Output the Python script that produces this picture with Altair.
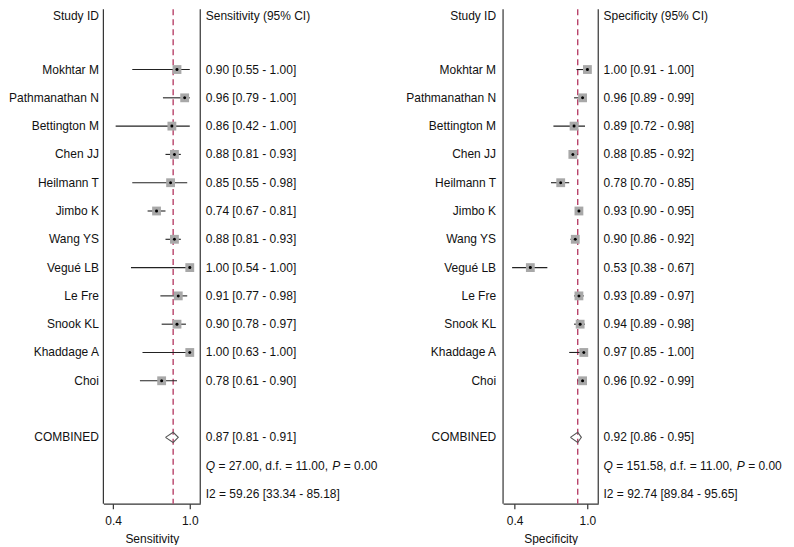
import altair as alt
import pandas as pd

# ---------------- data ----------------
studies = ["Mokhtar M", "Pathmanathan N", "Bettington M", "Chen JJ", "Heilmann T",
           "Jimbo K", "Wang YS", "Vegué LB", "Le Fre", "Snook KL", "Khaddage A", "Choi"]
sens_est = [0.90, 0.96, 0.86, 0.88, 0.85, 0.74, 0.88, 1.00, 0.91, 0.90, 1.00, 0.78]
sens_lo = [0.55, 0.79, 0.42, 0.81, 0.55, 0.67, 0.81, 0.54, 0.77, 0.78, 0.63, 0.61]
sens_hi = [1.00, 1.00, 1.00, 0.93, 0.98, 0.81, 0.93, 1.00, 0.98, 0.97, 1.00, 0.90]
spec_est = [1.00, 0.96, 0.89, 0.88, 0.78, 0.93, 0.90, 0.53, 0.93, 0.94, 0.97, 0.96]
spec_lo = [0.91, 0.89, 0.72, 0.85, 0.70, 0.90, 0.86, 0.38, 0.89, 0.89, 0.85, 0.92]
spec_hi = [1.00, 0.99, 0.98, 0.92, 0.85, 0.95, 0.92, 0.67, 0.97, 0.98, 1.00, 0.99]

comb_sens = [0.87, 0.81, 0.91]      # estimate, lower, upper
comb_spec = [0.92, 0.86, 0.95]
q_sens = [27.00, 11.00, 0.00]       # Q, d.f., P
q_spec = [151.58, 11.00, 0.00]
i2_sens = [59.26, 33.34, 85.18]     # I2 [lower - upper]
i2_spec = [92.74, 89.84, 95.65]

tick_values = [0.4, 1.0]

# ---------------- style ----------------
FONT = "Liberation Sans"
FS = 12
TXT = "#111111"
FRAME = "#333333"
DASH = "#b8436a"

# Arial / Liberation Sans advance widths (em) for layout of mixed-style text
CW = {c: 0.556 for c in "0123456789d"}
CW.update({".": 0.278, ",": 0.278, " ": 0.278, "=": 0.584, "f": 0.278,
           "Q": 0.778, "P": 0.667, "[": 0.278, "]": 0.278, "-": 0.333})


def tw(s):
    return sum(CW.get(c, 0.556) for c in s) * FS


Y_SCALE = alt.Scale(domain=[-0.127, 17.345], reverse=True, nice=False, zero=False)
HEIGHT = 495
HEADER_Y = 7


def txt(df, x, align, italic=False, field="label", y=None):
    enc_y = alt.value(y) if y is not None else alt.Y("row:Q", scale=Y_SCALE, axis=None)
    return alt.Chart(df).mark_text(
        align=align, baseline="middle", font=FONT, fontSize=FS, color=TXT,
        fontStyle="italic" if italic else "normal"
    ).encode(
        x=alt.value(x),
        y=enc_y,
        text=f"{field}:N",
    )


def panel(est, lo, hi, comb, q, i2, measure, dom, rng, lab_x, ci_x, width):
    rows = [2 + i for i in range(len(studies))]
    df = pd.DataFrame({"label": studies, "row": rows, "est": est, "lo": lo, "hi": hi})
    df["ci"] = [f"{e:.2f} [{l:.2f} - {h:.2f}]" for e, l, h in zip(est, lo, hi)]

    xs = alt.Scale(domain=dom, range=rng, nice=False, zero=False)
    ax = alt.Axis(values=tick_values, format=".1f", title=measure, grid=False,
                  tickSize=5, tickColor=FRAME, domainColor=FRAME, domainWidth=1.2,
                  tickWidth=1.2, labelFont=FONT, labelFontSize=FS, labelColor=TXT,
                  labelPadding=7, titleFont=FONT, titleFontSize=FS,
                  titleFontWeight="normal", titleColor=TXT, titlePadding=7)
    Y = alt.Y("row:Q", scale=Y_SCALE, axis=None)

    def X(f):
        return alt.X(f"{f}:Q", scale=xs, axis=ax)

    base = alt.Chart(df)
    ci_line = base.mark_rule(color="#222222", strokeWidth=1.1).encode(
        x=X("lo"), x2="hi:Q", y=Y)
    box = base.mark_square(size=78, color="#a8a8a8", opacity=1).encode(x=X("est"), y=Y)
    dot = base.mark_circle(size=9, color="black", opacity=1).encode(x=X("est"), y=Y)

    edges = pd.DataFrame({"edge": dom})
    frame = alt.Chart(edges).mark_rule(color=FRAME, strokeWidth=1.2).encode(x=X("edge"))

    cdf = pd.DataFrame({"est": [comb[0]]})
    dash = alt.Chart(cdf).mark_rule(color=DASH, strokeWidth=1.4,
                                    strokeDash=[6, 4]).encode(x=X("est"))

    h = 0.18
    ddf = pd.DataFrame({
        "x": [comb[1], comb[0], comb[2], comb[0], comb[1]],
        "row": [15, 15 - h, 15, 15 + h, 15],
        "o": [0, 1, 2, 3, 4],
    })
    diamond = alt.Chart(ddf).mark_line(color="#555555", strokeWidth=1.1).encode(
        x=X("x"), y=Y, order="o:Q")

    labels = txt(df, lab_x, "right")
    cis = txt(df, ci_x, "left", field="ci")

    head_l = txt(pd.DataFrame({"label": ["Study ID"]}), lab_x, "right", y=HEADER_Y)
    head_r = txt(pd.DataFrame({"label": [f"{measure} (95% CI)"]}), ci_x, "left", y=HEADER_Y)

    comb_l = txt(pd.DataFrame({"row": [15], "label": ["COMBINED"]}), lab_x, "right")
    comb_r = txt(pd.DataFrame({"row": [15, 17],
                               "label": [f"{comb[0]:.2f} [{comb[1]:.2f} - {comb[2]:.2f}]",
                                         f"I2 = {i2[0]:.2f} [{i2[1]:.2f} - {i2[2]:.2f}]"]}),
                 ci_x, "left")

    seg2 = f"= {q[0]:.2f}, d.f. = {q[1]:.2f},"
    seg4 = f"= {q[2]:.2f}"
    x1 = ci_x
    x2 = x1 + tw("Q ")
    x3 = x2 + tw(seg2 + " ")
    x4 = x3 + tw("P ")
    qrow = 16
    q_layers = [
        txt(pd.DataFrame({"row": [qrow], "label": ["Q"]}), x1, "left", italic=True),
        txt(pd.DataFrame({"row": [qrow], "label": [seg2]}), x2, "left"),
        txt(pd.DataFrame({"row": [qrow], "label": ["P"]}), x3, "left", italic=True),
        txt(pd.DataFrame({"row": [qrow], "label": [seg4]}), x4, "left"),
    ]

    return alt.layer(frame, dash, ci_line, box, dot, diamond, labels, cis,
                     head_l, head_r, comb_l, comb_r, *q_layers).properties(
        width=width, height=HEIGHT)


left = panel(sens_est, sens_lo, sens_hi, comb_sens, q_sens, i2_sens, "Sensitivity",
             dom=[0.324, 1.082], rng=[94.5, 191.5], lab_x=90, ci_x=197, width=395)
right = panel(spec_est, spec_lo, spec_hi, comb_spec, q_spec, i2_spec, "Specificity",
              dom=[0.3055, 1.089], rng=[99.7, 195.0], lab_x=92.7, ci_x=200.3, width=383)

chart = alt.hconcat(left, right, spacing=0).properties(padding=0).configure_view(
    strokeWidth=0, stroke=None)

chart.save("out.html", embed_options={"renderer": "svg", "actions": False})
